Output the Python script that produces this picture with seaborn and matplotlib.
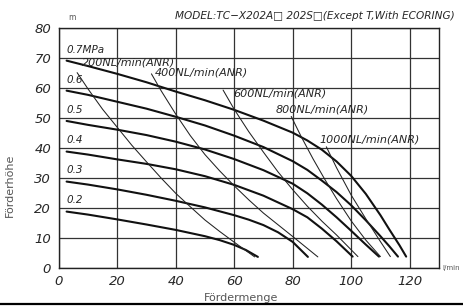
import numpy as np
import pandas as pd
import matplotlib
matplotlib.use("Agg")
import matplotlib.pyplot as plt
import seaborn as sns
from matplotlib.lines import Line2D

# pressure curves (thick lines)
p_labels = ["0.7MPa", "0.6", "0.5", "0.4", "0.3", "0.2"]
p07_x = [2.7, 10, 20, 30, 40, 50, 60, 70, 80, 85, 90, 95, 100, 105, 110, 113, 116.5, 118.8]
p07_y = [69.0, 67.2, 64.6, 61.8, 58.7, 55.8, 52.6, 49.0, 45.0, 42.4, 39.3, 35.4, 30.6, 24.6, 17.5, 12.8, 7.5, 3.7]
p06_x = [2.7, 10, 20, 30, 40, 50, 60, 70, 80, 85, 90, 95, 100, 105, 110, 113, 116.0]
p06_y = [59.0, 57.6, 55.3, 53.0, 50.3, 47.4, 44.0, 40.2, 35.5, 32.6, 29.0, 25.2, 20.8, 15.8, 10.5, 7.2, 3.7]
p05_x = [2.7, 10, 20, 30, 40, 50, 60, 70, 80, 85, 90, 95, 100, 105, 109.5]
p05_y = [48.9, 47.6, 46.0, 44.2, 42.0, 39.4, 36.2, 32.5, 28.0, 24.8, 21.0, 16.8, 12.3, 7.7, 3.7]
p04_x = [2.7, 10, 20, 30, 40, 50, 60, 70, 80, 85, 90, 95, 100.5]
p04_y = [38.7, 37.7, 36.1, 34.6, 32.8, 30.5, 27.6, 24.0, 19.5, 16.8, 13.0, 8.8, 3.7]
p03_x = [2.7, 10, 20, 30, 40, 50, 60, 65, 70, 75, 80, 85.2]
p03_y = [28.7, 27.7, 26.1, 24.3, 22.3, 20.1, 17.5, 16.0, 14.2, 11.8, 8.6, 3.6]
p02_x = [2.7, 10, 20, 30, 40, 50, 55, 60, 64, 68.1]
p02_y = [18.7, 17.7, 16.1, 14.4, 12.6, 10.5, 9.2, 7.6, 5.9, 3.6]

# air consumption lines (thin)
a_labels = ["200NL/min(ANR)", "400NL/min(ANR)", "600NL/min(ANR)",
            "800NL/min(ANR)", "1000NL/min(ANR)"]
a200_x = [6.3, 10, 15, 20.5, 25, 30, 35, 40, 45, 50, 55, 60, 67.0]
a200_y = [65.0, 59.6, 52.8, 46.2, 40.8, 35.3, 29.9, 24.8, 20.3, 15.9, 12.1, 8.5, 3.6]
a400_x = [31.7, 35, 40, 45, 50, 55, 60, 65, 70, 75, 80, 88.6]
a400_y = [64.6, 59.0, 51.2, 44.0, 37.7, 32.3, 27.3, 22.6, 18.2, 14.3, 10.4, 3.6]
a600_x = [56.2, 60, 65, 70, 75, 80, 85, 90, 95, 102.3]
a600_y = [59.2, 52.8, 45.3, 38.5, 31.9, 26.0, 20.5, 15.5, 10.9, 3.7]
a800_x = [79.5, 83, 87, 91, 95, 100, 105, 110.0]
a800_y = [50.4, 43.5, 36.2, 29.4, 23.0, 15.6, 9.2, 3.7]
a1000_x = [91.5, 95, 100, 105, 110, 113.4]
a1000_y = [40.3, 33.3, 24.2, 16.3, 8.7, 3.7]

x_ticks = [0, 20, 40, 60, 80, 100, 120]
y_ticks = [0, 10, 20, 30, 40, 50, 60, 70, 80]

sns.set_style("white")
plt.rcParams['font.family'] = ['DejaVu Sans']

fig = plt.figure(figsize=(4.63, 3.07), dpi=100)
ax = fig.add_axes([0.1268, 0.128, 0.8212, 0.782])

pressure = [(p07_x, p07_y), (p06_x, p06_y), (p05_x, p05_y),
            (p04_x, p04_y), (p03_x, p03_y), (p02_x, p02_y)]
air = [(a200_x, a200_y), (a400_x, a400_y), (a600_x, a600_y),
       (a800_x, a800_y), (a1000_x, a1000_y)]

for xs, ys in pressure:
    sns.lineplot(x=xs, y=ys, ax=ax, color="#111111", lw=1.5, sort=False,
                 estimator=None)
for xs, ys in air:
    sns.lineplot(x=xs, y=ys, ax=ax, color="#222222", lw=0.75, sort=False,
                 estimator=None)

# labels on the curves
lab_pos = [(2.5, 70.8), (2.5, 60.8), (2.5, 50.8), (2.5, 40.8), (2.5, 30.8), (2.5, 20.8)]
for lab, (x, y) in zip(p_labels, lab_pos):
    ax.text(x, y, lab, fontsize=7.5, style="italic", ha="left", va="bottom")
air_pos = [(8.0, 68.5), (32.9, 65.2), (59.6, 58.1), (74.3, 52.6), (89.2, 42.6)]
for lab, (x, y) in zip(a_labels, air_pos):
    ax.text(x, y, lab, fontsize=8, style="italic", ha="left", va="center")

ax.set_xlim(0, 130)
ax.set_ylim(0, 80)
ax.set_xticks(x_ticks)
ax.set_yticks(y_ticks)
ax.set_xticklabels([str(v) for v in x_ticks], style="italic", fontsize=9.5)
ax.set_yticklabels([str(v) for v in y_ticks], style="italic", fontsize=9.5)
ax.tick_params(axis="both", direction="out", length=3.5, width=1, color="black", pad=2)
ax.grid(True, color="#333333", lw=0.9)
for s in ax.spines.values():
    s.set_color("#222222")
    s.set_linewidth(1.0)
ax.set_xlabel("")
ax.set_ylabel("")

fig.text(0.52, 1 - 298 / 307, "Fördermenge", fontsize=8, color="#555555",
         ha="center", va="center")
fig.text(10 / 463, 1 - 185 / 307, "Förderhöhe", fontsize=8, color="#555555",
         ha="center", va="center", rotation=90)
fig.text(72 / 463, 1 - 17 / 307, "m", fontsize=5.5, color="#555555",
         ha="center", va="center")
fig.text(442 / 463, 1 - 268 / 307, "l/min", fontsize=5, color="#555555",
         ha="left", va="center")
fig.text(455 / 463, 1 - 16 / 307, "MODEL:TC\u2212X202A\u25a1 202S\u25a1(Except T,With ECORING)",
         fontsize=7.6, style="italic", ha="right", va="center")
fig.add_artist(Line2D([0, 1], [1 - 304 / 307, 1 - 304 / 307], color="black", lw=1.6,
                      transform=fig.transFigure))

fig.savefig("out.png", dpi=100)
